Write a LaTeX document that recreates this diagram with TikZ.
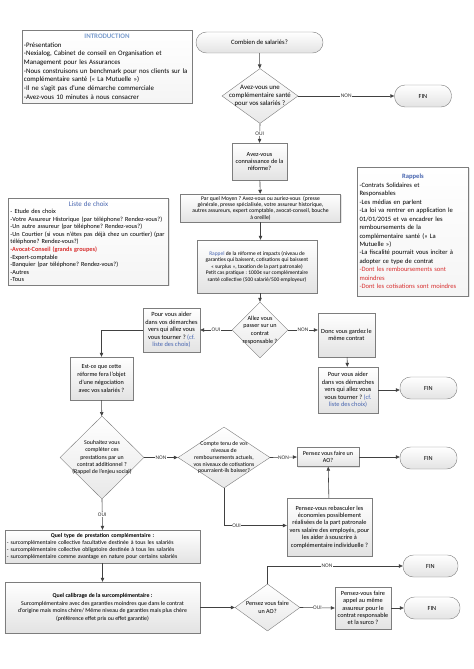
\documentclass[tikz,border=0pt]{standalone}
\usepackage{fontspec}
\setmainfont{Carlito}
\usetikzlibrary{shapes.geometric,arrows.meta,shadows}
\definecolor{hdblue}{RGB}{70,100,175}
\definecolor{introblue}{RGB}{120,155,205}
\definecolor{alertred}{RGB}{215,45,45}
\definecolor{linegray}{RGB}{65,65,65}
\definecolor{bordergray}{RGB}{125,125,125}
\newcommand{\fs}[2]{\fontsize{#1}{#2}\selectfont}
\newcommand{\hd}[1]{\makebox[\hsize][c]{#1}}
\frenchspacing
\begin{document}
\frenchspacing
\begin{tikzpicture}[x=1bp, y=-1bp,
  every node/.style={inner sep=2bp},
  shade/.style={top color=white, bottom color=gray!22},
  info/.style={draw=bordergray, top color=white, bottom color=gray!8, align=left,
    drop shadow={opacity=0.2, shadow xshift=1bp, shadow yshift=-1bp}},
  box/.style={draw=bordergray, shade, align=center, font=\fs{6.3}{7.4},
    drop shadow={opacity=0.2, shadow xshift=1bp, shadow yshift=-1bp}},
  term/.style={draw=bordergray, shade, rounded corners=10.5bp, minimum width=57bp,
    minimum height=22bp, font=\fs{6.3}{7.4}},
  decision/.style={diamond, draw=bordergray, top color=white, bottom color=gray!18, inner sep=0pt},
  dtext/.style={align=center, font=\fs{6.2}{7.6}},
  flow/.style={draw=linegray, line width=0.6bp, -{Triangle[length=4bp, width=3.5bp]}},
  tag/.style={fill=white, inner sep=0.6bp, font=\fs{5.5}{6}, text=black!80}
]
\useasboundingbox (0,0) rectangle (474,669);

% information boxes
\node[info, minimum width=170bp, minimum height=73bp, text width=166bp, font=\fs{6.9}{8.7}] (intro) at (107,66.5)
  {\hd{\textcolor{introblue}{\textbf{INTRODUCTION}}}\\
   -Présentation\\
   -Nexialog, Cabinet de conseil en Organisation et\\
   Management pour les Assurances\\
   -Nous construisons un benchmark pour nos clients sur la\\
   complémentaire santé (« La Mutuelle »)\\
   -Il ne s'agit pas d'une démarche commerciale\\
   -Avez-vous 10 minutes à nous consacrer};
\node[info, minimum width=159bp, minimum height=87bp, text width=156bp, font=\fs{6.3}{7.6}] (liste) at (88.5,241.5)
  {\hd{\textcolor{hdblue}{\fs{7}{7.6}Liste de choix}}\\
   - Etude des choix\\
   -Votre Assureur Historique (par téléphone? Rendez-vous?)\\
   -Un autre assureur (par téléphone? Rendez-vous?)\\
   -Un Courtier (si vous n'êtes pas déjà chez un courtier) (par\\
   téléphone? Rendez-vous?)\\
   \textcolor{alertred}{\textbf{-Avocat-Conseil (grands groupes)}}\\
   -Expert-comptable\\
   -Banquier (par téléphone? Rendez-vous?)\\
   -Autres\\
   -Tous};
\node[info, minimum width=110bp, minimum height=129bp, text width=107bp, font=\fs{6.6}{8.5}] (rappels) at (413,231.5)
  {\hd{\textcolor{hdblue}{\textbf{Rappels}}}\\
   -Contrats Solidaires et\\
   Responsables\\
   -Les médias en parlent\\
   -La loi va rentrer en application le\\
   01/01/2015 et va encadrer les\\
   remboursements de la\\
   complémentaire santé (« La\\
   Mutuelle »)\\
   -La fiscalité pourrait vous inciter à\\
   adopter ce type de contrat\\
   \textcolor{alertred}{-Dont les remboursements sont}\\
   \textcolor{alertred}{moindres}\\
   \textcolor{alertred}{-Dont les cotisations sont moindres}};

% flow
\node[term, minimum width=127bp, minimum height=21bp, font=\fs{6.6}{7.4}] (start) at (259.5,42.5) {Combien de salariés?};
\node[decision, minimum width=76bp, minimum height=55bp] (ask1) at (260,96) {};
\node[dtext, font=\fs{6.8}{8}] (ask1txt) at (ask1) {Avez-vous une\\complémentaire santé\\pour vos salariés ?};
\node[term] (fin1) at (423,96) {FIN};
\node[box, minimum width=55bp, minimum height=37bp] (connais) at (259.5,161.5)
  {Avez-vous\\connaissance de la\\réforme?};
\node[box, minimum width=160bp, minimum height=28bp, font=\fs{5.7}{6.4}] (moyen) at (260.5,208)
  {Par quel Moyen ? Avez-vous ou auriez-vous \ (presse\\
   générale, presse spécialisée, votre assureur historique,\\
   autres assureurs, expert comptable, avocat-conseil, bouche\\
   à oreille)};
\node[box, minimum width=120bp, minimum height=53bp, font=\fs{5.5}{6.5}] (rappel) at (257,266.5)
  {\textcolor{hdblue}{Rappel} de la réforme et impacts (niveau de\\
   garanties qui baissent, cotisations qui baissent\\
   « surplus », taxation de la part patronale)\\
   Petit cas pratique : 1000€ sur complémentaire\\
   santé collective (500 salarié/500 employeur)};
\node[decision, minimum width=56bp, minimum height=56bp] (ask2) at (260,330) {};
\node[dtext] (ask2txt) at (ask2) {Allez vous\\passer sur un\\contrat\\responsable ?};
\node[box, minimum width=57bp, minimum height=44bp, font=\fs{6.4}{7.6}] (aider1) at (171.5,330)
  {Pour vous aider\\dans vos démarches\\vers qui allez vous\\vous tourner ? \textcolor{hdblue}{(cf.}\\\textcolor{hdblue}{liste des choix)}};
\node[box, minimum width=57bp, minimum height=44bp] (garder) at (346.5,335)
  {Donc vous gardez le\\même contrat};
\node[box, minimum width=60bp, minimum height=46bp, font=\fs{6.4}{7.6}] (aider2) at (348,390)
  {Pour vous aider\\dans vos démarches\\vers qui allez vous\\vous tourner ? \textcolor{hdblue}{(cf.}\\\textcolor{hdblue}{liste des choix)}};
\node[term] (fin2) at (428.5,388) {FIN};
\node[box, minimum width=63bp, minimum height=43bp, font=\fs{6.2}{7.8}] (negoc) at (101.5,378.5)
  {Est-ce que cette\\réforme fera l'objet\\d'une négociation\\avec vos salariés ?};
\node[decision, minimum width=84bp, minimum height=83bp] (ask3) at (102,457.5) {};
\node[dtext, font=\fs{5.9}{7.4}] (ask3txt) at (ask3) {Souhaitez vous\\compléter ces\\prestations par un\\contrat additionnel ?\\(Rappel de l'enjeu social)};
\node[decision, minimum width=92bp, minimum height=61bp] (ask4) at (224,457.5) {};
\node[dtext, font=\fs{5.8}{7}] (ask4txt) at (ask4) {Compte tenu de vos\\niveaux de\\remboursements actuels,\\vos niveaux de cotisations\\pourraient-ils baisser?};
\node[box, minimum width=62bp, minimum height=19bp, font=\fs{6.1}{7}] (ao1) at (328,457) {Pensez vous faire un\\AO?};
\node[term] (fin3) at (428.5,458) {FIN};
\node[box, minimum width=85bp, minimum height=58bp] (rebasc) at (329.5,527)
  {Pensez-vous rebasculer les\\économies possiblement\\réalisées de la part patronale\\vers salaire des employés, pour\\les aider à souscrire à\\complémentaire individuelle ?};
\node[box, minimum width=195bp, minimum height=33bp, text width=191bp, align=left, font=\fs{5.8}{7}] (type) at (102.5,546.5)
  {\hd{\textbf{Quel type de prestation complémentaire :}}\\
   - surcomplémentaire collective facultative destinée à tous les salariés\\
   - surcomplémentaire collective obligatoire destinée à tous les salariés\\
   - surcomplémentaire comme avantage en nature pour certains salariés};
\node[box, minimum width=195bp, minimum height=51bp, font=\fs{5.9}{7.7}] (calib) at (102.5,607.5)
  {\textbf{Quel calibrage de la surcomplémentaire :}\\
   Surcomplémentaire avec des garanties moindres que dans le contrat\\
   d'origine mais moins chère/ Même niveau de garanties mais plus chère\\
   (préférence effet prix ou effet garantie)};
\node[decision, minimum width=65bp, minimum height=47bp] (ask5) at (267.5,607.5) {};
\node[dtext] (ask5txt) at (ask5) {Pensez vous faire\\un AO?};
\node[term, minimum width=55bp] (fin4) at (430.5,566) {FIN};
\node[box, minimum width=56bp, minimum height=42bp] (appel) at (363,608)
  {Pensez-vous faire\\appel au même\\assureur pour le\\contrat responsable\\et la surco ?};
\node[term, minimum width=56bp] (fin5) at (432,608) {FIN};

% connectors
\draw[flow] (start) -- (ask1);
\draw[flow] (ask1.east) -- node[tag]{NON} (fin1.west);
\draw[flow] (ask1.south) -- node[tag]{OUI} (connais.north);
\draw[flow] (connais) -- (moyen);
\draw[flow] (moyen.south) -- (moyen.south |- rappel.north);
\draw[flow] (rappel.south -| ask2.north) -- (ask2.north);
\draw[flow] (ask2.west) -- node[tag]{OUI} (aider1.east);
\draw[flow] (ask2.east) -- node[tag]{NON} (ask2.east -| garder.west);
\draw[flow] (aider1.west) -| (negoc.north);
\draw[flow] (garder) -- (aider2);
\draw[flow] (aider2.east) -- (aider2.east -| fin2.west);
\draw[flow] (negoc) -- (ask3);
\draw[flow] (ask3.east) -- node[tag]{NON} (ask4.west);
\draw[flow] (ask3.south) -- node[tag]{OUI} (type.north);
\draw[flow] (ask4.east) -- node[tag]{NON} (ao1.west);
\draw[flow] (ask4.south) |- node[tag, pos=0.6]{OUI} ([yshift=1.5bp]rebasc.west);
\draw[flow] (rebasc) -- (ao1);
\draw[flow] (ao1.east) -- (ao1.east -| fin3.west);
\draw[flow] (type) -- (calib);
\draw[flow] (calib.east) -- (ask5.west);
\draw[flow] (ask5.north) |- node[tag, pos=0.72]{NON} (fin4.west);
\draw[flow] (ask5.east) -- node[tag]{OUI} (appel.west);
\draw[flow] (appel.east) -- (fin5.west);
\end{tikzpicture}
\end{document}
